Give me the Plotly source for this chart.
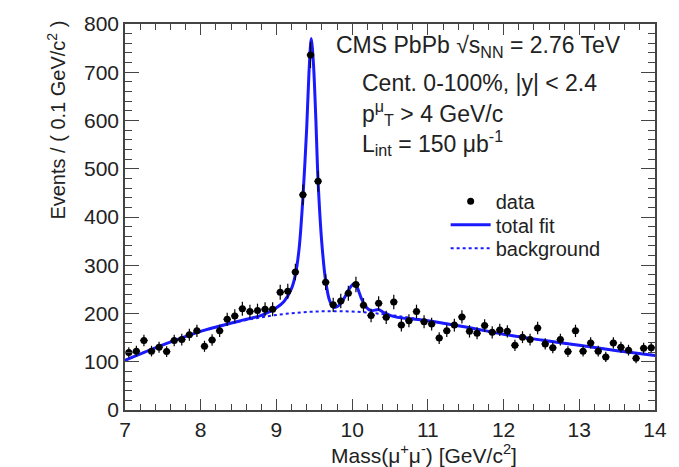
import numpy as np
import plotly.graph_objects as go

# ---- data ----
mass = np.round(np.arange(7.05, 14.0, 0.1), 2)
events = [119, 122, 144, 122, 130, 121, 144, 146, 156, 164,
          132, 145, 164, 188, 195, 210, 204, 206, 209, 209,
          244, 246, 286, 446, 736, 474, 265, 218, 226, 242,
          260, 217, 196, 221, 192, 224, 176, 185, 204, 183,
          178, 149, 164, 176, 193, 163, 159, 175, 161, 166,
          163, 134, 151, 146, 170, 137, 129, 146, 121, 164,
          122, 139, 122, 110, 139, 130, 124, 107, 128, 129]
err = np.sqrt(np.array(events, dtype=float))

fit_x = [7.0, 7.5, 8.0, 8.5, 8.8, 9.0, 9.1, 9.2, 9.25, 9.3, 9.35, 9.4, 9.43,
         9.46, 9.49, 9.52, 9.55, 9.6, 9.65, 9.7, 9.75, 9.8, 9.85, 9.9, 9.95,
         10.0, 10.03, 10.07, 10.12, 10.18, 10.25, 10.3, 10.35, 10.42, 10.5,
         10.6, 11.0, 11.5, 12.0, 12.5, 13.0, 13.5, 14.0]
fit_y = [103, 135, 163, 184, 196, 212, 225, 252, 280, 335, 440, 585, 700,
         770, 715, 605, 475, 345, 268, 228, 213, 214, 221, 233, 248,
         259, 262, 253, 232, 214, 206, 207, 208, 202, 196,
         192, 185, 172, 157, 145, 134, 123, 113]

bkg_x = [7.0, 7.5, 8.0, 8.5, 9.0, 9.5, 10.0, 10.5, 11.0, 11.5, 12.0, 12.5, 13.0, 13.5, 14.0]
bkg_y = [103, 135, 163, 183, 197, 204, 204, 197, 185, 172, 157, 145, 134, 123, 113]

x_ticks = [7, 8, 9, 10, 11, 12, 13, 14]
y_ticks = [0, 100, 200, 300, 400, 500, 600, 700, 800]

FONT = "Liberation Sans, Arial, Helvetica, sans-serif"
TXT = "#222222"
BLUE = "#1a1aff"

fig = go.Figure()
fig.add_trace(go.Scatter(
    x=bkg_x, y=bkg_y, mode="lines", name="background",
    line=dict(color=BLUE, width=2, dash="dot", shape="spline"),
    legend="legend3"))
fig.add_trace(go.Scatter(
    x=fit_x, y=fit_y, mode="lines", name="total fit",
    line=dict(color=BLUE, width=3, shape="spline", smoothing=0.8),
    legend="legend2"))
fig.add_trace(go.Scatter(
    x=mass, y=events, mode="markers", name="data",
    marker=dict(color="black", size=7),
    error_y=dict(type="data", array=err, color="black", thickness=1.2, width=0),
    error_x=dict(type="constant", value=0.05, color="black", thickness=1.2, width=0),
    legend="legend"))

axis_common = dict(showgrid=False, zeroline=False, showline=True, mirror="ticks",
                   linecolor="#444444", linewidth=1.5, ticks="inside",
                   tickcolor="#444444", tickwidth=1.2,
                   tickfont=dict(family=FONT, size=21, color=TXT))

def leg(ypos):
    return dict(x=0.605, y=ypos, xanchor="left", yanchor="middle",
                bgcolor="rgba(0,0,0,0)", font=dict(family=FONT, size=20, color=TXT),
                itemwidth=40)

fig.update_layout(
    width=679, height=467,
    margin=dict(l=125, r=14, t=17, b=57),
    paper_bgcolor="white", plot_bgcolor="white",
    font=dict(family=FONT, color=TXT),
    xaxis=dict(range=[7, 14], tickvals=x_ticks, ticklen=11,
               minor=dict(dtick=0.2, ticklen=6, ticks="inside", tickcolor="#444444"),
               **axis_common),
    yaxis=dict(range=[0, 800], tickvals=y_ticks, ticklen=14,
               minor=dict(dtick=20, ticklen=7, ticks="inside", tickcolor="#444444"),
               **axis_common),
    legend=leg(0.541),
    legend2=leg(0.480),
    legend3=leg(0.419),
    showlegend=True,
)

ann = [
    dict(text="CMS PbPb √s<sub>NN</sub> = 2.76 TeV", x=0.394, y=0.942, size=23),
    dict(text="Cent. 0-100%, |y| < 2.4", x=0.444, y=0.848, size=23),
    dict(text="p<sup>μ</sup><sub>T</sub> > 4 GeV/c", x=0.444, y=0.77, size=23),
    dict(text="L<sub>int</sub> = 150 μb<sup>-1</sup>", x=0.444, y=0.692, size=23),
]
for a in ann:
    fig.add_annotation(text=a["text"], x=a["x"], y=a["y"], xref="paper", yref="paper",
                       xanchor="left", yanchor="middle", showarrow=False,
                       font=dict(family=FONT, size=a["size"], color=TXT))

fig.add_annotation(text="Mass(μ<sup>+</sup>μ<sup>-</sup>) [GeV/c<sup>2</sup>]",
                   x=0.565, y=-0.115, xref="paper", yref="paper",
                   xanchor="center", yanchor="middle", showarrow=False,
                   font=dict(family=FONT, size=21, color=TXT))
fig.add_annotation(text="Events / ( 0.1 GeV/c<sup>2</sup> )",
                   x=-0.13, y=0.75, xref="paper", yref="paper", textangle=-90,
                   xanchor="center", yanchor="middle", showarrow=False,
                   font=dict(family=FONT, size=20, color=TXT))

fig.write_html("out.html")
